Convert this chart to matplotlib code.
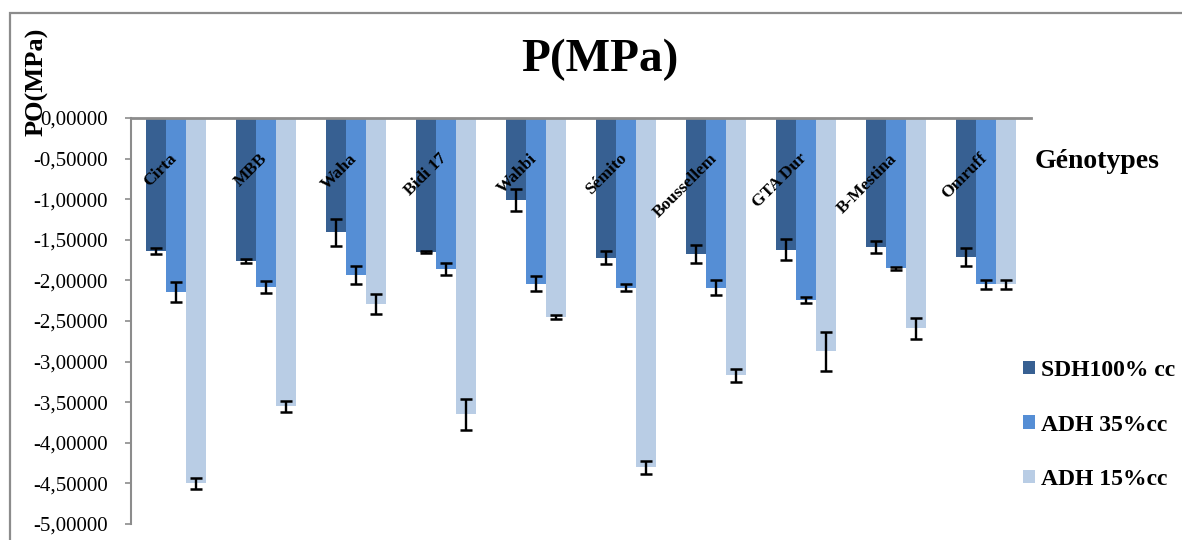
import matplotlib
matplotlib.use("Agg")
import matplotlib.pyplot as plt
from matplotlib.patches import Rectangle
import numpy as np

# genotypes and series values (MPa)
genotypes = ["Cirta", "MBB", "Waha", "Bidi 17", "Wahbi", "Sémito",
             "Boussellem", "GTA Dur", "B-Mestina", "Omruff"]
series_names = ["SDH100% cc", "ADH 35%cc", "ADH 15%cc"]
sdh100 = [-1.64, -1.76, -1.41, -1.65, -1.01, -1.72, -1.67, -1.62, -1.59, -1.71]
adh35 = [-2.14, -2.08, -1.93, -1.86, -2.04, -2.09, -2.09, -2.24, -1.85, -2.05]
adh15 = [-4.50, -3.55, -2.29, -3.65, -2.45, -4.30, -3.17, -2.87, -2.59, -2.05]
err_sdh100 = [0.04, 0.02, 0.17, 0.01, 0.14, 0.08, 0.11, 0.13, 0.07, 0.11]
err_adh35 = [0.12, 0.07, 0.11, 0.07, 0.09, 0.04, 0.09, 0.04, 0.02, 0.05]
err_adh15 = [0.07, 0.07, 0.12, 0.19, 0.02, 0.08, 0.08, 0.24, 0.13, 0.05]
yticks = [0, -0.5, -1, -1.5, -2, -2.5, -3, -3.5, -4, -4.5, -5]
ytick_labels = ["0,00000", "-0,50000", "-1,00000", "-1,50000", "-2,00000",
                "-2,50000", "-3,00000", "-3,50000", "-4,00000", "-4,50000",
                "-5,00000"]

colors = ["#376092", "#558ED5", "#B9CDE5"]
serif = "Liberation Serif"

W, H = 1182, 540
fig = plt.figure(figsize=(W / 100, H / 100), dpi=100)
ax = fig.add_axes([131 / W, 1 - 524 / H, 900 / W, 406 / H])

# outer chart frame
fig.patches.append(Rectangle((10 / W, -0.05), 1.1, 1 - 13 / H + 0.05,
                             transform=fig.transFigure, fill=False,
                             edgecolor="#8c8c8c", linewidth=1.6))

x = np.arange(len(genotypes))
bw = 2 / 9
vals = [sdh100, adh35, adh15]
errs = [err_sdh100, err_adh35, err_adh15]
for i, (v, e) in enumerate(zip(vals, errs)):
    ax.bar(x + (i - 1) * bw, v, bw, color=colors[i], label=series_names[i],
           yerr=e, error_kw=dict(ecolor="black", elinewidth=1.7,
                                 capsize=4.5, capthick=1.8), zorder=2)

ax.set_xlim(-0.5, len(genotypes) - 0.5)
ax.set_ylim(-5, 0)
ax.set_yticks(yticks)
ax.set_yticklabels(ytick_labels, fontfamily=serif, fontsize=15)
ax.tick_params(axis="y", length=4.5, width=1.2, color="#8c8c8c", pad=12)
ax.set_xticks([])
for s in ["right", "bottom"]:
    ax.spines[s].set_visible(False)
ax.spines["left"].set_color("#8c8c8c")
ax.spines["top"].set_color("#8c8c8c")
ax.spines["left"].set_linewidth(1.5)
ax.spines["top"].set_linewidth(2)

# category labels inside the plot, rotated
for xi, g in zip(x, genotypes):
    ax.text(xi - 0.08, -0.40, g, rotation=45, rotation_mode="anchor",
            ha="right", va="top", fontfamily=serif, fontweight="bold",
            fontsize=12.5, zorder=3)

fig.text(600 / W, 1 - 60 / H, "P(MPa)", ha="center", va="center",
         fontfamily=serif, fontweight="bold", fontsize=34)
fig.text(37 / W, 1 - 82 / H, "PO(MPa)", rotation=90, ha="center",
         va="center", fontfamily=serif, fontweight="bold", fontsize=19)
fig.text(1097 / W, 1 - 162 / H, "Génotypes", ha="center", va="center",
         fontfamily=serif, fontweight="bold", fontsize=20)

leg = fig.legend(loc="upper left", bbox_to_anchor=(1023 / W, 1 - 360 / H),
                 frameon=False, prop=dict(family=serif, weight="bold", size=17),
                 handlelength=0.5, handleheight=0.5, handletextpad=0.25,
                 labelspacing=1.42, borderpad=0, borderaxespad=0)

fig.savefig("out.png", dpi=100)
